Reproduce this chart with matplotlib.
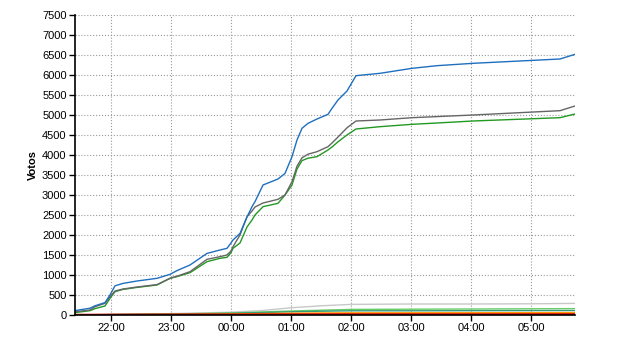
import matplotlib
matplotlib.use('Agg')
import matplotlib.pyplot as plt
import matplotlib.dates as mdates
import pandas as pd

# Vote counts
times = ["21:24", "21:39", "21:44", "21:54", "21:59", "22:04", "22:12", "22:26", "22:46", "22:59",
         "23:06", "23:19", "23:36", "23:49", "23:56", "00:00", "00:02", "00:09", "00:16", "00:21",
         "00:24", "00:32", "00:47", "00:54", "01:01", "01:06", "01:11", "01:17", "01:26", "01:37",
         "01:41", "01:47", "01:56", "02:05", "02:29", "03:01", "03:26", "04:02", "05:29", "05:44"]

blue = [110, 170, 230, 310, 500, 730, 790, 850, 917, 1017,
        1110, 1250, 1540, 1625, 1667, 1800, 1875, 2040, 2450, 2708,
        2833, 3250, 3400, 3540, 3958, 4375, 4667, 4792, 4900, 5017,
        5167, 5375, 5600, 5983, 6042, 6167, 6233, 6292, 6400, 6517]

gray = [83, 125, 208, 292, 458, 600, 650, 700, 760, 917,
        970, 1083, 1392, 1458, 1500, 1600, 1708, 2000, 2458, 2600,
        2700, 2800, 2892, 3000, 3333, 3720, 3930, 4020, 4083, 4208,
        4300, 4450, 4680, 4850, 4875, 4933, 4960, 5000, 5108, 5225]

green = [60, 108, 160, 225, 417, 583, 640, 690, 750, 917,
         960, 1058, 1333, 1417, 1442, 1560, 1667, 1800, 2200, 2375,
         2500, 2708, 2792, 3000, 3250, 3650, 3860, 3920, 3958, 4125,
         4200, 4330, 4500, 4650, 4708, 4767, 4800, 4850, 4933, 5025]

# smaller parties
minor_times = ["21:24", "22:00", "23:00", "00:00", "00:30", "01:00", "01:30", "02:00",
               "03:00", "04:00", "05:00", "05:44"]
light_gray = [0, 15, 35, 70, 110, 180, 230, 265, 275, 275, 280, 290]
light_green = [0, 10, 25, 50, 75, 100, 120, 140, 145, 150, 155, 160]
teal = [0, 10, 20, 40, 60, 80, 95, 105, 105, 108, 110, 112]
orange = [0, 8, 15, 25, 35, 45, 52, 55, 56, 57, 58, 60]
red = [0, 3, 5, 8, 10, 12, 14, 15, 15, 15, 16, 17]


def to_dt(labels):
    out = []
    for t in labels:
        h = int(t[:2])
        day = "2011-05-22" if h >= 12 else "2011-05-23"
        out.append(pd.Timestamp(day + " " + t))
    return out


t_main = to_dt(times)
t_minor = to_dt(minor_times)

fig = plt.figure(figsize=(6.4, 3.5), dpi=100)
ax = fig.add_axes([75 / 640, 35 / 350, 500 / 640, 300 / 350])

ax.plot(t_minor, light_gray, color='#c8c8c8', lw=1)
ax.plot(t_minor, light_green, color='#66cc66', lw=1)
ax.plot(t_minor, teal, color='#339977', lw=1)
ax.plot(t_minor, orange, color='#ff9900', lw=1)
ax.plot(t_minor, red, color='#dd1100', lw=1.8)
ax.plot(t_main, green, color='#229922', lw=1)
ax.plot(t_main, gray, color='#666666', lw=1)
ax.plot(t_main, blue, color='#1f6fbf', lw=1)

ax.set_xlim(pd.Timestamp("2011-05-22 21:24"), pd.Timestamp("2011-05-23 05:44"))
ax.set_ylim(0, 7500)
ax.set_yticks(range(0, 7501, 500))
ax.xaxis.set_major_locator(mdates.HourLocator())
ax.xaxis.set_major_formatter(mdates.DateFormatter('%H:%M'))

ax.grid(True, color='#999999', linestyle=':', linewidth=0.8)
ax.set_axisbelow(True)
for s in ['top', 'right']:
    ax.spines[s].set_visible(False)
ax.spines['left'].set_linewidth(1.2)
ax.spines['bottom'].set_linewidth(1.2)
ax.tick_params(labelsize=8, length=4, width=1, pad=2)
ax.set_ylabel('Votos', fontsize=8, fontweight='bold', family='Liberation Sans', labelpad=3)
for lab in ax.get_xticklabels() + ax.get_yticklabels():
    lab.set_family('Liberation Sans')

fig.savefig('out.png', dpi=100)
